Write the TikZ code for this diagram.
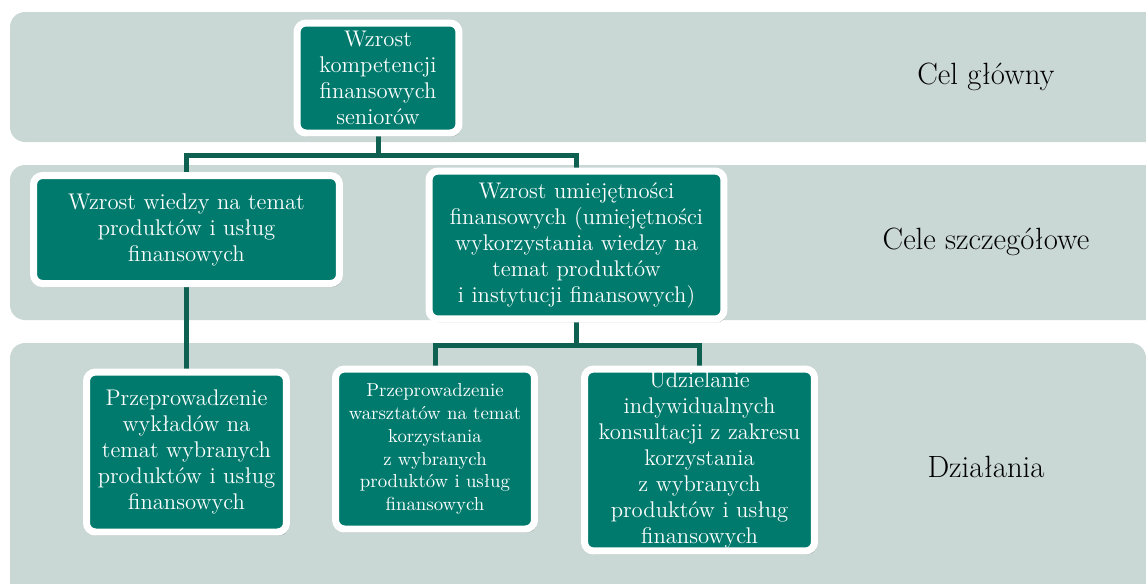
\documentclass[tikz,border=0pt]{standalone}
\usepackage{fontspec}
\usepackage{tikz}
\usetikzlibrary{shadows}
\usetikzlibrary{backgrounds}

\definecolor{bandgray}{HTML}{CAD8D5}
\definecolor{boxteal}{HTML}{007A6D}
\definecolor{linkteal}{HTML}{0E6150}

\tikzset{
  band/.style={fill=bandgray, rounded corners=0.3cm},
  celbox/.style={fill=boxteal, draw=white, line width=0.14cm, rounded corners=0.18cm,
    text=white, align=center, inner sep=0pt,
    font=\fontsize{12.9}{14.8}\selectfont,
    drop shadow={shadow xshift=0.04cm, shadow yshift=-0.07cm, opacity=0.3, fill=black!70}},
  link/.style={draw=linkteal, line width=0.1cm},
  levellabel/.style={text=black, font=\fontsize{17.5}{20}\selectfont}
}

\begin{document}
\begin{tikzpicture}[x=0.02cm, y=-0.02cm]
  \useasboundingbox (0,0) rectangle (1146,583);

  % Draw the boxes
  \node[celbox, minimum width=3.24cm, minimum height=2.2cm, text width=3.1cm] (glowny) at (378,78)
    {Wzrost\\kompetencji\\finansowych\\seniorów};
  \node[celbox, minimum width=6.12cm, minimum height=2.16cm, text width=5.8cm] (wiedza) at (186.5,229.5)
    {Wzrost wiedzy na temat\\produktów i usług\\finansowych};
  \node[celbox, minimum width=5.9cm, minimum height=2.96cm, text width=5.7cm] (umiej) at (576.5,245)
    {Wzrost umiejętności\\finansowych (umiejętności\\wykorzystania wiedzy na\\temat produktów\\i instytucji finansowych)};
  \node[celbox, minimum width=4.0cm, minimum height=3.2cm, text width=3.9cm] (wyklady) at (186.5,452)
    {Przeprowadzenie\\wykładów na\\temat wybranych\\produktów i usług\\finansowych};
  \node[celbox, minimum width=3.98cm, minimum height=3.2cm, text width=3.8cm,
    font=\fontsize{10.7}{13}\selectfont] (warsztaty) at (435,449)
    {Przeprowadzenie\\warsztatów na temat\\korzystania\\z wybranych\\produktów i usług\\finansowych};
  \node[celbox, minimum width=4.6cm, minimum height=3.64cm, text width=4.5cm] (konsult) at (699.5,460)
    {Udzielanie\\indywidualnych\\konsultacji z zakresu\\korzystania\\z wybranych\\produktów i usług\\finansowych};

  % Label the levels
  \node[levellabel] (lcel) at (986,77) {Cel główny};
  \node[levellabel] (lcele) at (986,242) {Cele szczegółowe};
  \node[levellabel] (ldzial) at (986,467) {Działania};

  \begin{scope}[on background layer]
    % Draw the bands
    \fill[band] (10,12) rectangle (1180,142);
    \fill[band] (10,165) rectangle (1180,320);
    \fill[band] (10,343) rectangle (1146,610);

    % Draw the connectors
    \coordinate (split1) at (378,155);
    \coordinate (split2) at (576.5,345);
    \draw[link] (glowny.south) -- (split1);
    \draw[link] (wiedza.north) |- (split1) -| (umiej.north);
    \draw[link] (wiedza.south) -- (wyklady.north);
    \draw[link] (umiej.south) -- (split2);
    \draw[link] (warsztaty.north) |- (split2) -| (konsult.north);
  \end{scope}
\end{tikzpicture}
\end{document}
